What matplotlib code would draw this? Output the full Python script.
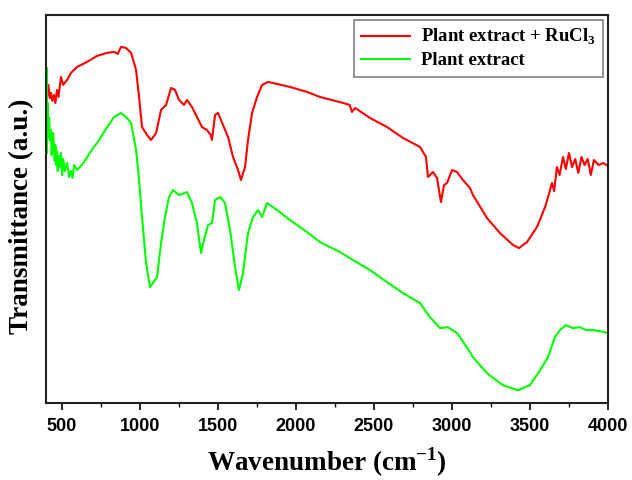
import numpy as np
import matplotlib
matplotlib.use("Agg")
import matplotlib.pyplot as plt

# FTIR spectra (transmittance in arbitrary units)
wn_ru = [400, 403, 406, 415, 425, 432, 440, 451, 460, 470, 480, 496, 510, 535, 560,
         599, 663, 727, 791, 836, 860, 880, 912, 945, 977, 996, 1015, 1047, 1073,
         1105, 1137, 1169, 1201, 1226, 1252, 1284, 1303, 1335, 1367, 1399, 1431,
         1455, 1463, 1483, 1502, 1534, 1566, 1598, 1630, 1649, 1675, 1694, 1720,
         1752, 1784, 1822, 1880, 1963, 2072, 2155, 2303, 2345, 2360, 2380, 2476,
         2584, 2687, 2796, 2834, 2847, 2879, 2905, 2930, 2950, 2969, 3001, 3033,
         3071, 3116, 3135, 3225, 3308, 3392, 3430, 3481, 3545, 3597, 3620, 3641,
         3655, 3673, 3690, 3712, 3730, 3750, 3770, 3790, 3810, 3830, 3850, 3870,
         3890, 3910, 3940, 3970, 4000]
t_ru = [320, 335, 303, 318, 305, 310, 302, 308, 300, 313, 306, 326, 318, 323, 330,
        336, 341, 347, 350, 351, 349, 356, 355, 350, 333, 306, 276, 268, 263,
        270, 293, 298, 315, 313, 303, 298, 303, 296, 286, 276, 273,
        268, 263, 288, 290, 278, 266, 246, 233, 223, 236, 263, 290,
        306, 318, 321, 319, 316, 311, 306, 300, 298, 291, 295, 285,
        276, 265, 256, 246, 226, 231, 225, 201, 218, 220, 233, 231,
        223, 215, 208, 185, 170, 158, 155, 161, 176, 196, 208, 220,
        212, 236, 228, 246, 234, 250, 236, 244, 230, 246, 238, 244,
        228, 243, 238, 240, 237]

wn_pe = [400, 403, 406, 410, 415, 420, 426, 432, 436, 440, 446, 451, 456, 460, 465,
         470, 475, 480, 488, 496, 503, 510, 520, 535, 548, 560, 570, 580, 599,
         640, 680, 740, 780, 836, 880, 912, 945, 977, 996, 1015,
         1041, 1066, 1111, 1137, 1162, 1188, 1214, 1252, 1290, 1303, 1335, 1367,
         1393, 1412, 1438, 1463, 1483, 1515, 1547, 1579, 1611, 1636, 1662, 1694,
         1726, 1758, 1784, 1816, 1880, 1963, 2072, 2155, 2283, 2367, 2476, 2584,
         2687, 2796, 2860, 2924, 2975, 3033, 3052, 3116, 3135, 3225, 3327, 3423,
         3500, 3565, 3616, 3660, 3692, 3730, 3775, 3820, 3860, 3904, 3950, 4000]
t_pe = [250, 335, 250, 300, 265, 285, 262, 273, 248, 258, 270, 255, 242, 258, 238,
        252, 232, 247, 236, 250, 228, 244, 232, 240, 226, 232, 225, 238, 233,
        240, 250, 263, 273, 286, 290, 286, 280, 253, 223, 186,
        140, 116, 126, 160, 186, 206, 213, 208, 210, 211, 200, 180,
        150, 163, 178, 180, 203, 206, 200, 173, 136, 113, 130, 170,
        186, 193, 186, 200, 193, 183, 171, 161, 151, 143, 133, 121,
        110, 100, 86, 75, 76, 70, 66, 51, 46, 30, 18, 13,
        18, 33, 46, 66, 73, 78, 75, 76, 73, 73, 72, 70]

labels = [r'Plant extract + RuCl$_{\mathbf{3}}$', 'Plant extract']

plt.rcParams['mathtext.fontset'] = 'custom'
plt.rcParams['mathtext.rm'] = 'Liberation Serif'
plt.rcParams['mathtext.bf'] = 'Liberation Serif:bold'

fig = plt.figure(figsize=(6.32, 4.8), dpi=100)
ax = fig.add_axes([0.0728, 0.160, 0.8892, 0.809])

ax.plot(wn_ru, t_ru, color='#FF0000', lw=1.5, label=labels[0])
ax.plot(wn_pe, t_pe, color='#00FF00', lw=1.5, label=labels[1])

ax.set_xlim(400, 4000)
ax.set_ylim(0, 388)
ax.set_xticks(np.arange(500, 4001, 500))
ax.set_xticks(np.arange(750, 4000, 500), minor=True)
ax.set_yticks([])
ax.tick_params(axis='x', which='major', direction='out', length=5, width=1.2,
               labelsize=13, pad=6, top=False)
ax.tick_params(axis='x', which='minor', direction='out', length=3, width=1.0, top=False)
for lab in ax.get_xticklabels():
    lab.set_fontfamily('Liberation Sans')
    lab.set_fontweight('bold')
for sp in ax.spines.values():
    sp.set_linewidth(1.5)
    sp.set_color('#222222')

ax.set_xlabel(r'Wavenumber (cm$^{\mathbf{-1}}$)', fontsize=19.5, fontweight='bold',
              family='Liberation Serif', va='center')
ax.set_ylabel('Transmittance (a.u.)', fontsize=19.5, fontweight='bold',
              family='Liberation Serif', va='center')
ax.xaxis.set_label_coords(0.5, -0.153)
ax.yaxis.set_label_coords(-0.043, 0.48)

leg = ax.legend(loc='upper right', prop={'family': 'Liberation Serif', 'weight': 'bold', 'size': 13.5},
                frameon=True, fancybox=False, edgecolor='#808080', framealpha=1.0,
                handlelength=2.6, handletextpad=0.6, borderaxespad=0.25, labelspacing=0.25)
leg.get_frame().set_linewidth(1.2)

fig.savefig('out.png', dpi=100, facecolor='white')
